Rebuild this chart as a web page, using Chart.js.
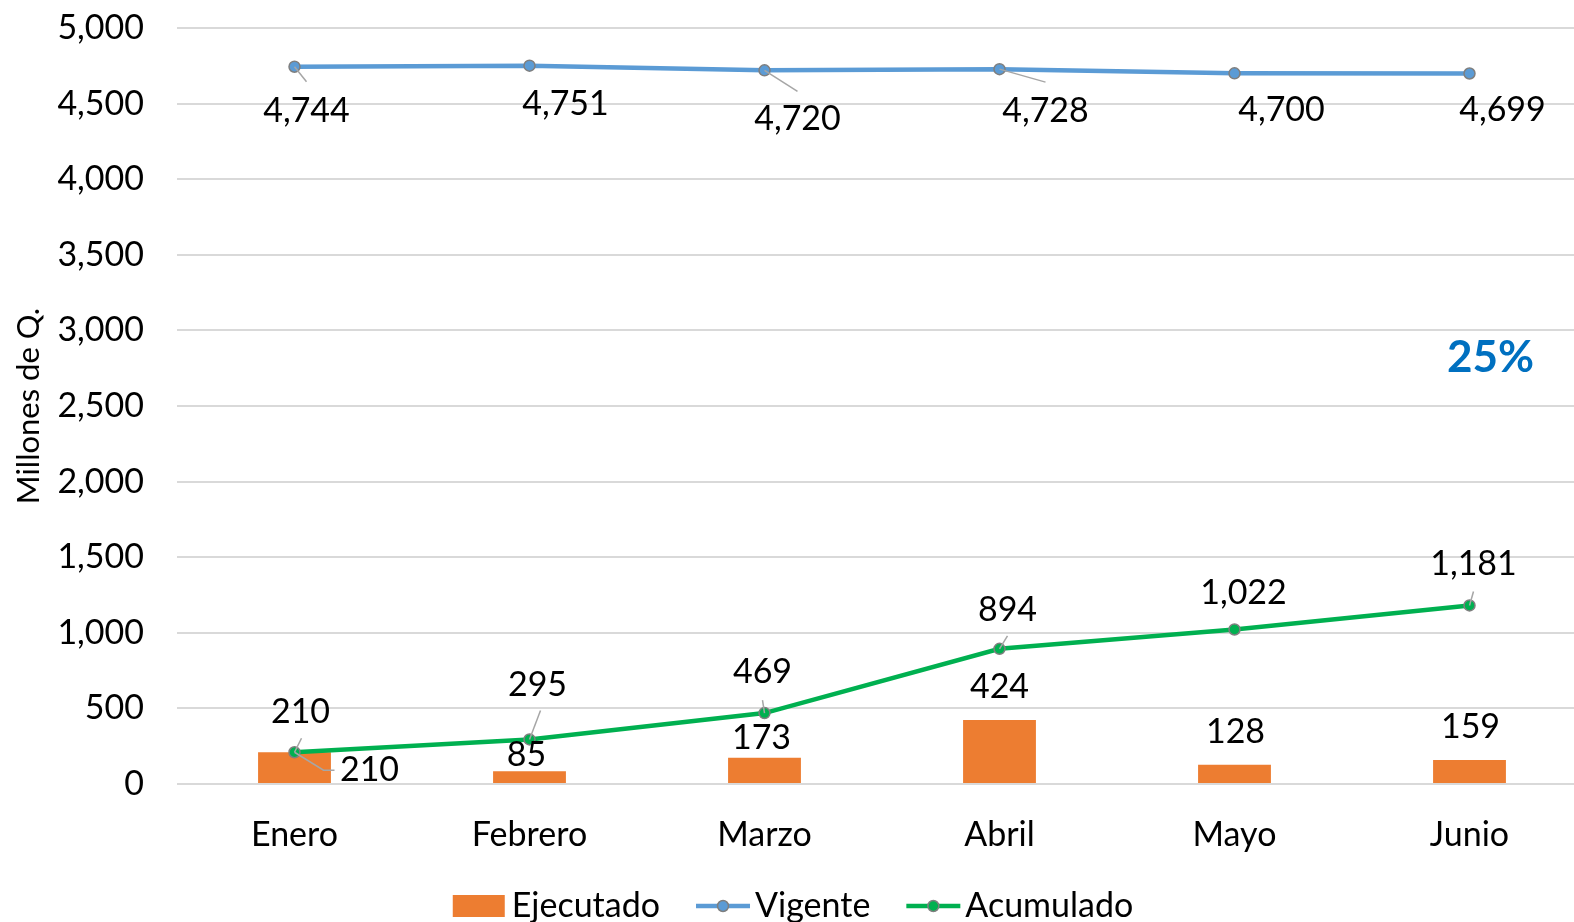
<!DOCTYPE html>
<html>
<head>
<meta charset="utf-8">
<script src="https://cdn.jsdelivr.net/npm/chart.js@4.4.1/dist/chart.umd.min.js"></script>
<style>
  html, body { margin: 0; padding: 0; background: #fff; }
</style>
</head>
<body>
<canvas id="graficoEjecucion" width="1574" height="922"></canvas>
<script>
// Datos del gráfico
const meses = ['Enero', 'Febrero', 'Marzo', 'Abril', 'Mayo', 'Junio'];
const ejecutado = [210, 85, 173, 424, 128, 159];
const vigente = [4744, 4751, 4720, 4728, 4700, 4699];
const acumulado = [210, 295, 469, 894, 1022, 1181];
const porcentajeEjecucion = '25%';
const tituloEjeY = 'Millones de Q.';

// Desplazamiento de etiquetas (px) respecto al punto: [dx, dy]
const posVigente = [[12, 44], [36, 38], [33, 49], [46, 42], [47, 37], [33, 37]];
const guiaVigente = [[12, 15], null, [33, 21], [46, 13], null, null];
const posAcumulado = [[6, -40], [8, -54], [-2, -41], [8, -39], [9, -36], [4, -41]];
const guiaAcumulado = [[7, -14], [11, -29], [-2, -13], [8, -13], null, [4, -14]];
const posEjecutado = [[75, 18], [-3, -16], [-3, -20], [0, -33], [1, -33], [1, -33]];

const FUENTE = 'Lato, "Open Sans", sans-serif';
const fmt = v => v.toLocaleString('en-US');

// el área de trazado del original se sale un poco por la derecha
const extenderEjeX = {
  id: 'extenderEjeX',
  afterLayout(chart) {
    const xs = chart.scales.x;
    xs.right += 13;
    xs.width += 13;
    xs.configure();
  }
};

const etiquetasPlugin = {
  id: 'etiquetas',
  afterDatasetsDraw(chart) {
    const ctx = chart.ctx;
    ctx.save();
    ctx.font = `34px ${FUENTE}`;
    ctx.textAlign = 'center';
    ctx.textBaseline = 'middle';
    ctx.strokeStyle = '#A6A6A6';
    ctx.lineWidth = 1.5;

    const barras = chart.getDatasetMeta(0).data;
    const pVig = chart.getDatasetMeta(1).data;
    const pAcu = chart.getDatasetMeta(2).data;

    // guías
    pVig.forEach((p, i) => {
      const g = guiaVigente[i];
      if (!g) return;
      ctx.beginPath(); ctx.moveTo(p.x, p.y); ctx.lineTo(p.x + g[0], p.y + g[1]); ctx.stroke();
    });
    pAcu.forEach((p, i) => {
      const g = guiaAcumulado[i];
      if (!g) return;
      ctx.beginPath(); ctx.moveTo(p.x, p.y); ctx.lineTo(p.x + g[0], p.y + g[1]); ctx.stroke();
    });
    // guía de la barra de enero
    const b0 = barras[0];
    ctx.beginPath();
    ctx.moveTo(b0.x, b0.y);
    ctx.lineTo(b0.x + 29, b0.y + 18);
    ctx.lineTo(b0.x + 40, b0.y + 18);
    ctx.stroke();

    ctx.fillStyle = '#000';
    pVig.forEach((p, i) => ctx.fillText(fmt(vigente[i]), p.x + posVigente[i][0], p.y + posVigente[i][1]));
    pAcu.forEach((p, i) => ctx.fillText(fmt(acumulado[i]), p.x + posAcumulado[i][0], p.y + posAcumulado[i][1]));
    barras.forEach((b, i) => ctx.fillText(fmt(ejecutado[i]), b.x + posEjecutado[i][0], b.y + posEjecutado[i][1]));

    // porcentaje de ejecución
    const ya = chart.scales.y, xa = chart.scales.x;
    ctx.font = `bold 44px ${FUENTE}`;
    ctx.fillStyle = '#0070C0';
    ctx.fillText(porcentajeEjecucion, xa.getPixelForValue(5) + 21, ya.getPixelForValue(2820));
    ctx.restore();
  }
};

const leyendaPlugin = {
  id: 'leyendaPropia',
  afterDraw(chart) {
    const ctx = chart.ctx;
    const sets = chart.data.datasets;
    ctx.save();
    ctx.font = `34px ${FUENTE}`;
    ctx.textBaseline = 'middle';
    const y = 906;
    const anchoSimbolo = 54, sep = 5, entre = 36;
    const anchos = sets.map(d => anchoSimbolo + sep + ctx.measureText(d.label).width);
    const total = anchos.reduce((a, b) => a + b, 0) + entre * (sets.length - 1);
    let x = chart.width / 2 - total / 2 + 6;
    sets.forEach((d, i) => {
      if (d.type === 'bar') {
        ctx.fillStyle = d.backgroundColor;
        ctx.fillRect(x, y - 11, anchoSimbolo - 2, 22);
      } else {
        ctx.strokeStyle = d.borderColor;
        ctx.lineWidth = 4.5;
        ctx.beginPath(); ctx.moveTo(x, y); ctx.lineTo(x + anchoSimbolo, y); ctx.stroke();
        ctx.beginPath(); ctx.arc(x + anchoSimbolo / 2, y, 5.5, 0, Math.PI * 2);
        ctx.fillStyle = d.pointBackgroundColor;
        ctx.fill();
        ctx.strokeStyle = d.pointBorderColor;
        ctx.lineWidth = 1.5;
        ctx.stroke();
      }
      ctx.fillStyle = '#000';
      ctx.textAlign = 'left';
      ctx.fillText(d.label, x + anchoSimbolo + sep, y);
      x += anchos[i] + entre;
    });
    ctx.restore();
  }
};

const ctx = document.getElementById('graficoEjecucion').getContext('2d');
new Chart(ctx, {
  data: {
    labels: meses,
    datasets: [
      {
        type: 'bar',
        label: 'Ejecutado',
        data: ejecutado,
        backgroundColor: '#ED7D31',
        categoryPercentage: 1,
        barPercentage: 0.31,
        order: 3
      },
      {
        type: 'line',
        label: 'Vigente',
        data: vigente,
        borderColor: '#5B9BD5',
        borderWidth: 4.5,
        pointBackgroundColor: '#5B9BD5',
        pointBorderColor: '#7F7F7F',
        pointBorderWidth: 1.5,
        pointRadius: 5.5,
        tension: 0,
        order: 1
      },
      {
        type: 'line',
        label: 'Acumulado',
        data: acumulado,
        borderColor: '#00B050',
        borderWidth: 4.5,
        pointBackgroundColor: '#00B050',
        pointBorderColor: '#7F7F7F',
        pointBorderWidth: 1.5,
        pointRadius: 5.5,
        tension: 0,
        order: 2
      }
    ]
  },
  options: {
    responsive: false,
    animation: false,
    layout: { autoPadding: false, padding: 0 },
    plugins: {
      legend: { display: false },
      tooltip: { enabled: false }
    },
    scales: {
      x: {
        grid: { display: false, drawTicks: false },
        border: { display: false },
        ticks: { color: '#000', font: { family: FUENTE, size: 34 }, padding: 31 },
        afterFit(scale) {
          scale.height = 138;
          scale.paddingLeft = 0;
          scale.paddingRight = 0;
        }
      },
      y: {
        min: 0,
        max: 5000,
        ticks: {
          stepSize: 500,
          color: '#000',
          font: { family: FUENTE, size: 34 },
          padding: 33,
          callback: v => fmt(v)
        },
        grid: { color: '#D9D9D9', lineWidth: 2, drawTicks: false },
        border: { display: false },
        title: {
          display: true,
          text: tituloEjeY,
          color: '#000',
          font: { family: FUENTE, size: 31 },
          padding: { top: 10, bottom: 0 }
        },
        afterFit(scale) {
          scale.width = 177;
          scale.paddingTop = 28;
          scale.paddingBottom = 0;
        }
      }
    }
  },
  plugins: [extenderEjeX, etiquetasPlugin, leyendaPlugin]
});
</script>
</body>
</html>
